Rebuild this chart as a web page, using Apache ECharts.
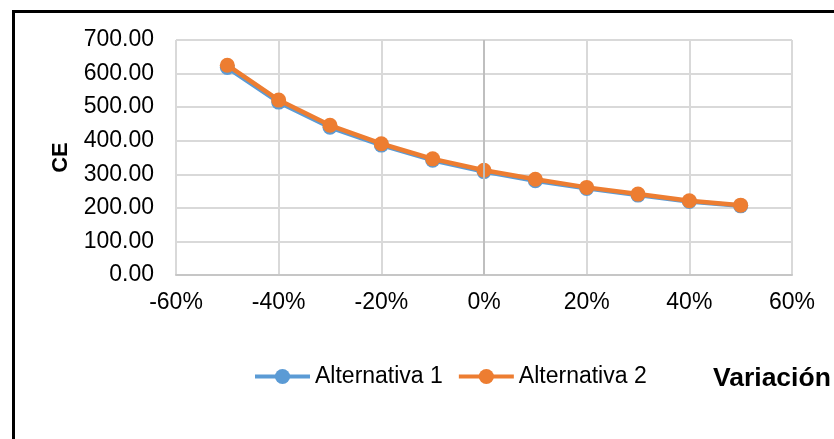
<!DOCTYPE html>
<html>
<head>
<meta charset="utf-8">
<script src="https://cdn.jsdelivr.net/npm/echarts@6/dist/echarts.min.js"></script>
<style>
  html, body { margin: 0; padding: 0; background: #fff; }
  #chart { width: 834px; height: 439px; }
</style>
</head>
<body>
<div id="chart"></div>
<script>
// Variation of the parameter (percent) and CE for each alternative
const variation = [-50, -40, -30, -20, -10, 0, 10, 20, 30, 40, 50];
const alternativa1 = [618, 515, 440, 387, 342, 308, 281, 258, 238, 219, 206];
const alternativa2 = [625, 521, 446, 391, 346, 312, 285, 261, 241, 221, 208];
const seriesNames = ['Alternativa 1', 'Alternativa 2'];
const seriesColors = ['#5B9BD5', '#ED7D31'];

const FONT = '"Liberation Sans", Arial, sans-serif';

function pairs(xs, ys) {
  return xs.map((x, i) => [x, ys[i]]);
}

const chart = echarts.init(document.getElementById('chart'), null, { renderer: 'canvas' });

chart.setOption({
  animation: false,
  backgroundColor: '#ffffff',
  textStyle: { fontFamily: FONT, color: '#000' },
  title: {
    text: 'Variación',
    left: 713,
    top: 365,
    padding: 0,
    textStyle: { fontFamily: FONT, fontSize: 26.5, fontWeight: 'bold', color: '#000' }
  },
  graphic: [{
    type: 'rect',
    shape: { x: 13.5, y: 11.5, width: 1000, height: 1000 },
    style: { fill: 'none', stroke: '#000', lineWidth: 3 },
    silent: true,
    z: 100
  }],
  legend: {
    data: seriesNames,
    left: 253,
    top: 365,
    padding: 0,
    itemWidth: 55,
    itemHeight: 19,
    itemGap: 14,
    lineStyle: { width: 4 },
    textStyle: { fontFamily: FONT, fontSize: 23, color: '#000' }
  },
  grid: { left: 176, right: 42, top: 40, bottom: 164, containLabel: false },
  xAxis: {
    type: 'value',
    min: -60,
    max: 60,
    interval: 20,
    axisLine: { show: true, onZero: false, lineStyle: { color: '#c6c6c6', width: 2 } },
    axisTick: { show: false },
    axisLabel: { formatter: '{value}%', fontSize: 23, color: '#000', margin: 16, fontFamily: FONT },
    splitLine: { show: true, lineStyle: { color: '#d9d9d9', width: 2 } }
  },
  yAxis: {
    type: 'value',
    min: 0,
    max: 700,
    interval: 100,
    name: 'CE',
    nameLocation: 'middle',
    nameRotate: 90,
    nameGap: 104,
    nameTextStyle: { fontFamily: FONT, fontSize: 22, fontWeight: 'bold', color: '#000' },
    axisLine: { show: false },
    axisTick: { show: false },
    axisLabel: { formatter: v => v.toFixed(2), fontSize: 23, color: '#000', margin: 22, fontFamily: FONT },
    splitLine: { show: true, lineStyle: { color: '#d9d9d9', width: 2 } }
  },
  series: [
    {
      name: seriesNames[0],
      type: 'line',
      data: pairs(variation, alternativa1),
      color: seriesColors[0],
      symbol: 'circle',
      symbolSize: 15,
      lineStyle: { width: 4.5 },
      z: 2,
      markLine: {
        silent: true,
        symbol: 'none',
        label: { show: false },
        lineStyle: { color: '#bfbfbf', width: 2, type: 'solid' },
        data: [{ xAxis: 0 }]
      }
    },
    {
      name: seriesNames[1],
      type: 'line',
      data: pairs(variation, alternativa2),
      color: seriesColors[1],
      symbol: 'circle',
      symbolSize: 15,
      lineStyle: { width: 4.5 },
      z: 3
    }
  ]
});
</script>
</body>
</html>
